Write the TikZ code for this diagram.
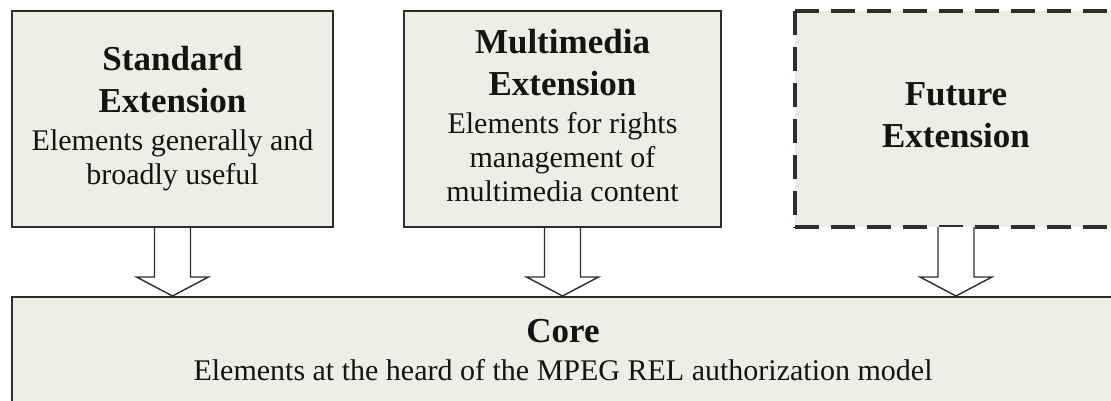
\documentclass[tikz,border=0pt]{standalone}
\usepackage{fontspec}
\setmainfont{Liberation Serif}
\usetikzlibrary{calc}

\definecolor{boxfill}{RGB}{238,238,230}
\definecolor{edge}{RGB}{45,45,45}
\definecolor{ink}{RGB}{20,20,20}

\tikzset{
  layerbox/.style={draw=edge, line width=2pt, fill=boxfill, inner sep=0pt,
    align=center, text=ink, font=\fontsize{30}{34}\selectfont},
  futurebox/.style={fill=boxfill, inner sep=0pt, align=center, text=ink,
    font=\fontsize{30}{34}\selectfont},
  futureedge/.style={draw=edge, line width=3.5pt, dash pattern=on 24pt off 12pt},
  flowarrow/.style={draw=edge, line width=1.4pt, fill=white, line join=miter},
}

% bold heading line inside a layer box
\newcommand{\layertitle}[1]{{\fontsize{35}{42}\selectfont\bfseries #1}}

% hollow block arrow from the bottom of one box down onto the top of another
\newcommand{\layerarrow}[2]{%
  \draw[flowarrow] ($(#1.south)+(-18,0)$)
    -- ($(#1.south |- #2.north)+(-18,19)$) -- ++(-18,0)
    -- (#1.south |- #2.north) -- ++(36,19) -- ++(-18,0)
    -- ($(#1.south)+(18,0)$);}

\begin{document}
\begin{tikzpicture}[x=1pt,y=1pt]
  \useasboundingbox (0,0) rectangle (1111,-401);
  \fill[white] (0,0) rectangle (1111,-401);
  \clip (0,0) rectangle (1111,-401);

  % core layer
  \node[layerbox, minimum width=1102pt, minimum height=112pt] (core) at (563,-353)
    {\layertitle{Core}\\[4pt]Elements at the heard of the MPEG REL authorization model\vphantom{y}};

  % extension layers
  \node[layerbox, minimum width=321pt, minimum height=216pt] (std) at (172.5,-119)
    {\layertitle{Standard}\\[8pt]\layertitle{Extension}\\[4pt]Elements generally and\\broadly useful};

  \node[layerbox, minimum width=317pt, minimum height=216pt] (mm) at (562.5,-119)
    {\layertitle{Multimedia}\\[8pt]\layertitle{Extension}\\[4pt]Elements for rights\\management of\\multimedia content\vphantom{y}};

  \node[futurebox, minimum width=322pt, minimum height=216pt] (fut) at (956,-119)
    {\layertitle{Future}\\[8pt]\layertitle{Extension\vphantom{y}}};
  \draw[futureedge] (fut.north west) -- (fut.north east);
  \draw[futureedge] (fut.north west) -- (fut.south west);
  \draw[futureedge] (fut.south west) -- (fut.south east);

  % arrows into the core
  \layerarrow{std}{core}
  \layerarrow{mm}{core}
  \layerarrow{fut}{core}
\end{tikzpicture}
\end{document}
